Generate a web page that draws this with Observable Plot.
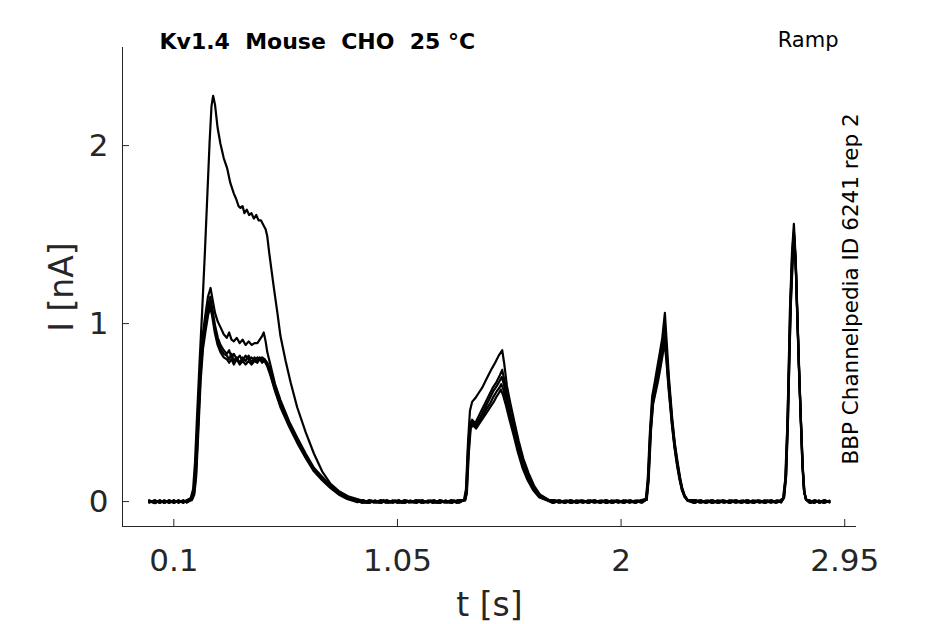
<!DOCTYPE html>
<html>
<head>
<meta charset="utf-8">
<script src="https://cdn.jsdelivr.net/npm/d3@7"></script>
<script src="https://cdn.jsdelivr.net/npm/@observablehq/plot@0.6"></script>
<style>
  html, body { margin: 0; padding: 0; background: #fff; }
  #chart { width: 945px; height: 624px; }
</style>
</head>
<body>
<div id="chart"></div>
<script>
// ---- Text ----
const titleText = "Kv1.4\u00a0 Mouse\u00a0 CHO\u00a0 25 °C";
const protocolText = "Ramp";
const sourceText = "BBP Channelpedia ID 6241 rep 2";
const xLabel = "t [s]";
const yLabel = "I [nA]";

// ---- Axes ----
const xDomain = [-0.118, 3.0];
const yDomain = [-0.14, 2.551];
const xTicks = [0.1, 1.05, 2, 2.95];
const xTickLabels = ["0.1", "1.05", "2", "2.95"];
const yTicks = [0, 1, 2];

// ---- Current traces [t (s), I (nA)] ----
const traceA = [
[-0.005,0.004],[0.02,-0.009],[0.04,0.006],[0.06,-0.005],[0.08,0.008],[0.10,-0.006],[0.12,0.004],[0.14,-0.007],[0.155,0.008],[0.172,0.02],[0.182,0.07],[0.190,0.22],[0.199,0.49],[0.210,0.80],[0.220,1.06],[0.232,1.40],[0.242,1.71],[0.252,2.02],[0.260,2.22],[0.267,2.28],[0.275,2.23],[0.286,2.10],[0.298,2.01],[0.312,1.93],[0.327,1.87],[0.340,1.79],[0.355,1.73],[0.365,1.70],[0.375,1.66],[0.383,1.65],[0.392,1.66],[0.400,1.62],[0.410,1.64],[0.420,1.61],[0.430,1.62],[0.440,1.59],[0.450,1.61],[0.460,1.58],[0.470,1.58],[0.482,1.55],[0.490,1.53],[0.497,1.49],[0.505,1.40],[0.515,1.30],[0.525,1.20],[0.540,1.06],[0.553,0.93],[0.575,0.79],[0.596,0.67],[0.624,0.53],[0.660,0.39],[0.695,0.27],[0.730,0.17],[0.766,0.10],[0.800,0.06],[0.840,0.03],[0.893,0.008],[0.92,-0.008],[0.94,0.006],[0.97,-0.007],[0.99,0.008],[1.02,-0.006],[1.04,0.007],[1.07,-0.008],[1.09,0.006],[1.12,-0.006],[1.14,0.008],[1.17,-0.005],[1.19,0.007],[1.22,-0.008],[1.24,0.005],[1.27,-0.006],[1.29,0.007],[1.315,-0.005],[1.333,0.012],
[1.341,0.07],[1.350,0.34],[1.358,0.51],[1.367,0.56],[1.380,0.58],[1.395,0.61],[1.410,0.64],[1.425,0.68],[1.440,0.72],[1.452,0.75],[1.465,0.78],[1.480,0.82],[1.495,0.85],[1.503,0.78],[1.515,0.65],[1.530,0.55],[1.548,0.44],[1.565,0.34],[1.585,0.24],[1.607,0.16],[1.630,0.09],[1.655,0.04],[1.690,0.012],[1.71,-0.007],[1.73,0.006],[1.76,-0.008],[1.78,0.007],[1.81,-0.006],[1.83,0.008],[1.86,-0.007],[1.88,0.006],[1.91,-0.008],[1.93,0.007],[1.96,-0.006],[1.98,0.008],[2.01,-0.007],[2.03,0.005],[2.06,-0.008],[2.08,0.006],[2.105,0.015],
[2.113,0.12],[2.122,0.38],[2.132,0.59],[2.143,0.67],[2.153,0.75],[2.165,0.84],[2.175,0.92],[2.186,1.06],[2.194,0.89],[2.203,0.70],[2.217,0.47],[2.228,0.33],[2.239,0.23],[2.250,0.14],[2.259,0.08],[2.270,0.035],[2.283,0.01],[2.31,-0.007],[2.33,0.006],[2.36,-0.008],[2.38,0.007],[2.41,-0.006],[2.43,0.008],[2.46,-0.007],[2.48,0.006],[2.51,-0.008],[2.53,0.007],[2.56,-0.006],[2.58,0.008],[2.61,-0.007],[2.63,0.006],[2.655,-0.007],[2.675,0.006],[2.688,0.02],
[2.697,0.12],[2.706,0.42],[2.712,0.75],[2.717,1.07],[2.726,1.40],[2.734,1.56],[2.741,1.38],[2.748,1.07],[2.755,0.78],[2.762,0.51],[2.770,0.22],[2.776,0.07],[2.784,0.015],[2.80,-0.007],[2.82,0.008],[2.84,-0.006],[2.86,0.007],[2.885,-0.004]
];

const traceB = [
[-0.005,-0.006],[0.02,0.008],[0.04,-0.006],[0.06,0.007],[0.08,-0.008],[0.10,0.006],[0.12,-0.005],[0.14,0.008],[0.155,-0.004],[0.174,0.015],[0.184,0.06],[0.192,0.18],[0.200,0.42],[0.212,0.74],[0.222,0.93],[0.233,1.04],[0.245,1.15],[0.256,1.20],[0.264,1.14],[0.275,1.06],[0.287,1.01],[0.298,0.98],[0.312,0.94],[0.325,0.92],[0.335,0.95],[0.345,0.91],[0.355,0.90],[0.367,0.92],[0.380,0.89],[0.392,0.91],[0.405,0.88],[0.418,0.90],[0.430,0.88],[0.443,0.89],[0.455,0.89],[0.465,0.91],[0.475,0.93],[0.482,0.95],[0.490,0.90],[0.497,0.84],[0.510,0.77],[0.530,0.66],[0.553,0.57],[0.590,0.45],[0.624,0.36],[0.660,0.27],[0.695,0.19],[0.730,0.14],[0.766,0.09],[0.800,0.05],[0.836,0.02],[0.88,0.006],[0.91,-0.007],[0.93,0.008],[0.96,-0.006],[0.98,0.007],[1.01,-0.008],[1.03,0.006],[1.06,-0.007],[1.08,0.008],[1.11,-0.005],[1.13,0.007],[1.16,-0.008],[1.18,0.006],[1.21,-0.007],[1.23,0.008],[1.26,-0.006],[1.28,0.007],[1.31,-0.007],[1.335,0.01],
[1.342,0.06],[1.350,0.30],[1.358,0.44],[1.367,0.46],[1.380,0.44],[1.395,0.48],[1.410,0.52],[1.425,0.56],[1.440,0.60],[1.455,0.64],[1.470,0.67],[1.485,0.71],[1.495,0.74],[1.503,0.69],[1.515,0.60],[1.530,0.50],[1.548,0.40],[1.565,0.31],[1.585,0.22],[1.607,0.14],[1.630,0.08],[1.655,0.035],[1.690,0.01],[1.72,0.008],[1.74,-0.006],[1.77,0.007],[1.79,-0.008],[1.82,0.006],[1.84,-0.007],[1.87,0.008],[1.89,-0.006],[1.92,0.007],[1.94,-0.008],[1.97,0.006],[1.99,-0.007],[2.02,0.008],[2.04,-0.005],[2.07,0.007],[2.09,-0.006],[2.107,0.012],
[2.115,0.14],[2.124,0.40],[2.133,0.57],[2.143,0.65],[2.153,0.72],[2.165,0.80],[2.175,0.88],[2.185,0.98],[2.193,0.85],[2.203,0.67],[2.217,0.45],[2.228,0.32],[2.239,0.22],[2.250,0.13],[2.259,0.075],[2.270,0.03],[2.283,0.008],[2.32,0.008],[2.34,-0.006],[2.37,0.007],[2.39,-0.008],[2.42,0.006],[2.44,-0.007],[2.47,0.008],[2.49,-0.006],[2.52,0.007],[2.54,-0.008],[2.57,0.006],[2.59,-0.007],[2.62,0.008],[2.64,-0.005],[2.665,0.007],[2.680,-0.004],[2.690,0.02],
[2.699,0.14],[2.707,0.45],[2.713,0.78],[2.719,1.10],[2.727,1.40],[2.734,1.52],[2.741,1.36],[2.748,1.05],[2.755,0.76],[2.762,0.50],[2.770,0.21],[2.777,0.06],[2.785,0.012],[2.80,0.007],[2.82,-0.008],[2.84,0.006],[2.865,-0.007],[2.885,0.004]
];

const traceC = [
[-0.005,0.008],[0.02,-0.007],[0.04,0.006],[0.06,-0.008],[0.08,0.007],[0.10,-0.005],[0.12,0.008],[0.14,-0.006],[0.155,0.006],[0.175,0.012],[0.185,0.05],[0.193,0.17],[0.201,0.40],[0.212,0.72],[0.222,0.90],[0.233,1.00],[0.245,1.10],[0.255,1.15],[0.263,1.09],[0.275,0.99],[0.287,0.92],[0.298,0.88],[0.312,0.85],[0.325,0.83],[0.335,0.85],[0.345,0.81],[0.355,0.83],[0.367,0.80],[0.380,0.82],[0.392,0.79],[0.405,0.82],[0.418,0.80],[0.430,0.81],[0.443,0.79],[0.455,0.81],[0.465,0.80],[0.475,0.81],[0.485,0.80],[0.497,0.78],[0.510,0.74],[0.530,0.65],[0.553,0.56],[0.590,0.44],[0.624,0.35],[0.660,0.26],[0.695,0.18],[0.730,0.13],[0.766,0.085],[0.800,0.05],[0.836,0.02],[0.88,0.004],[0.90,-0.008],[0.93,0.007],[0.95,-0.006],[0.98,0.008],[1.00,-0.007],[1.03,0.006],[1.05,-0.008],[1.08,0.007],[1.10,-0.006],[1.13,0.008],[1.15,-0.007],[1.18,0.005],[1.20,-0.008],[1.23,0.007],[1.25,-0.006],[1.28,0.008],[1.30,-0.007],[1.336,0.008],
[1.343,0.05],[1.351,0.29],[1.359,0.43],[1.368,0.45],[1.382,0.43],[1.397,0.46],[1.412,0.50],[1.427,0.54],[1.442,0.58],[1.457,0.62],[1.472,0.65],[1.485,0.68],[1.493,0.70],[1.502,0.66],[1.515,0.58],[1.530,0.49],[1.548,0.39],[1.565,0.30],[1.585,0.21],[1.607,0.135],[1.630,0.075],[1.655,0.03],[1.690,0.008],[1.715,-0.007],[1.74,0.008],[1.765,-0.006],[1.79,0.007],[1.815,-0.008],[1.84,0.006],[1.865,-0.007],[1.89,0.008],[1.915,-0.006],[1.94,0.007],[1.965,-0.008],[1.99,0.006],[2.015,-0.007],[2.04,0.008],[2.065,-0.005],[2.09,0.006],[2.108,0.01],
[2.116,0.13],[2.125,0.40],[2.134,0.56],[2.144,0.63],[2.154,0.70],[2.166,0.78],[2.176,0.86],[2.185,0.94],[2.193,0.83],[2.203,0.66],[2.217,0.44],[2.228,0.31],[2.239,0.21],[2.250,0.125],[2.259,0.07],[2.270,0.03],[2.283,0.006],[2.315,-0.007],[2.34,0.008],[2.365,-0.006],[2.39,0.007],[2.415,-0.008],[2.44,0.006],[2.465,-0.007],[2.49,0.008],[2.515,-0.006],[2.54,0.007],[2.565,-0.008],[2.59,0.006],[2.615,-0.007],[2.64,0.008],[2.66,-0.005],[2.678,0.006],[2.691,0.02],
[2.700,0.15],[2.708,0.46],[2.714,0.80],[2.720,1.12],[2.728,1.40],[2.735,1.50],[2.742,1.33],[2.749,1.03],[2.756,0.74],[2.763,0.48],[2.771,0.20],[2.778,0.055],[2.786,0.01],[2.805,-0.008],[2.825,0.007],[2.845,-0.006],[2.865,0.008],[2.885,-0.003]
];

const traceD = [
[-0.005,-0.003],[0.02,0.007],[0.04,-0.008],[0.06,0.006],[0.08,-0.006],[0.10,0.008],[0.12,-0.007],[0.14,0.005],[0.155,-0.006],[0.176,0.01],[0.186,0.045],[0.194,0.15],[0.202,0.38],[0.213,0.70],[0.223,0.88],[0.234,0.98],[0.245,1.07],[0.254,1.12],[0.262,1.07],[0.274,0.97],[0.286,0.90],[0.298,0.86],[0.312,0.83],[0.325,0.82],[0.335,0.80],[0.345,0.83],[0.355,0.79],[0.367,0.81],[0.380,0.78],[0.392,0.81],[0.405,0.79],[0.418,0.82],[0.430,0.78],[0.443,0.81],[0.455,0.79],[0.465,0.81],[0.475,0.79],[0.485,0.80],[0.497,0.77],[0.510,0.72],[0.530,0.63],[0.553,0.54],[0.590,0.43],[0.624,0.34],[0.660,0.25],[0.695,0.175],[0.730,0.125],[0.766,0.08],[0.800,0.045],[0.836,0.018],[0.88,0.003],[0.905,0.008],[0.93,-0.007],[0.955,0.006],[0.98,-0.008],[1.005,0.007],[1.03,-0.006],[1.055,0.008],[1.08,-0.007],[1.105,0.006],[1.13,-0.008],[1.155,0.007],[1.18,-0.005],[1.205,0.008],[1.23,-0.007],[1.255,0.006],[1.28,-0.008],[1.305,0.007],[1.337,0.008],
[1.344,0.05],[1.352,0.28],[1.360,0.42],[1.369,0.44],[1.383,0.42],[1.398,0.45],[1.413,0.48],[1.428,0.52],[1.443,0.55],[1.458,0.59],[1.472,0.62],[1.483,0.64],[1.491,0.66],[1.500,0.63],[1.513,0.56],[1.528,0.48],[1.546,0.38],[1.563,0.29],[1.583,0.20],[1.605,0.13],[1.628,0.07],[1.653,0.03],[1.688,0.007],[1.71,0.008],[1.735,-0.007],[1.76,0.006],[1.785,-0.008],[1.81,0.007],[1.835,-0.006],[1.86,0.008],[1.885,-0.007],[1.91,0.006],[1.935,-0.008],[1.96,0.007],[1.985,-0.005],[2.01,0.008],[2.035,-0.007],[2.06,0.006],[2.085,-0.006],[2.108,0.01],
[2.116,0.12],[2.126,0.40],[2.135,0.55],[2.145,0.62],[2.155,0.69],[2.166,0.76],[2.176,0.84],[2.184,0.92],[2.192,0.82],[2.202,0.65],[2.216,0.44],[2.227,0.31],[2.238,0.21],[2.249,0.125],[2.258,0.07],[2.269,0.03],[2.282,0.006],[2.31,0.008],[2.335,-0.007],[2.36,0.006],[2.385,-0.008],[2.41,0.007],[2.435,-0.006],[2.46,0.008],[2.485,-0.007],[2.51,0.006],[2.535,-0.008],[2.56,0.007],[2.585,-0.005],[2.61,0.008],[2.635,-0.007],[2.66,0.006],[2.68,-0.005],[2.692,0.02],
[2.701,0.15],[2.709,0.47],[2.715,0.82],[2.721,1.13],[2.729,1.38],[2.736,1.48],[2.743,1.31],[2.750,1.01],[2.757,0.72],[2.764,0.46],[2.772,0.19],[2.779,0.05],[2.787,0.01],[2.80,0.008],[2.82,-0.007],[2.84,0.006],[2.86,-0.008],[2.885,0.005]
];

const traceE = [
[-0.005,0.002],[0.02,-0.008],[0.04,0.007],[0.06,-0.006],[0.08,0.005],[0.10,-0.008],[0.12,0.006],[0.14,-0.005],[0.155,0.007],[0.177,0.008],[0.187,0.04],[0.195,0.14],[0.203,0.36],[0.214,0.68],[0.224,0.86],[0.235,0.96],[0.246,1.05],[0.254,1.09],[0.262,1.05],[0.274,0.95],[0.286,0.88],[0.298,0.84],[0.312,0.81],[0.325,0.80],[0.335,0.78],[0.345,0.80],[0.355,0.77],[0.367,0.80],[0.380,0.77],[0.392,0.79],[0.405,0.77],[0.418,0.79],[0.430,0.77],[0.443,0.79],[0.455,0.78],[0.465,0.80],[0.475,0.78],[0.485,0.79],[0.497,0.76],[0.510,0.71],[0.530,0.62],[0.553,0.53],[0.590,0.42],[0.624,0.33],[0.660,0.245],[0.695,0.17],[0.730,0.12],[0.766,0.075],[0.800,0.04],[0.836,0.015],[0.88,-0.004],[0.905,0.007],[0.93,-0.008],[0.955,0.006],[0.98,-0.007],[1.005,0.008],[1.03,-0.006],[1.055,0.007],[1.08,-0.008],[1.105,0.005],[1.13,-0.007],[1.155,0.008],[1.18,-0.006],[1.205,0.007],[1.23,-0.008],[1.255,0.006],[1.28,-0.007],[1.31,0.008],[1.338,0.007],
[1.345,0.05],[1.353,0.27],[1.361,0.41],[1.370,0.43],[1.384,0.41],[1.399,0.44],[1.414,0.47],[1.429,0.50],[1.444,0.53],[1.459,0.56],[1.471,0.59],[1.481,0.61],[1.489,0.63],[1.498,0.60],[1.511,0.54],[1.526,0.46],[1.544,0.37],[1.561,0.28],[1.581,0.19],[1.603,0.12],[1.626,0.065],[1.651,0.025],[1.686,0.006],[1.71,-0.008],[1.735,0.007],[1.76,-0.006],[1.785,0.008],[1.81,-0.007],[1.835,0.006],[1.86,-0.008],[1.885,0.007],[1.91,-0.005],[1.935,0.008],[1.96,-0.007],[1.985,0.006],[2.01,-0.008],[2.035,0.007],[2.06,-0.006],[2.085,0.007],[2.109,0.01],
[2.117,0.12],[2.127,0.40],[2.136,0.55],[2.146,0.61],[2.156,0.67],[2.167,0.75],[2.176,0.82],[2.184,0.90],[2.192,0.80],[2.202,0.63],[2.216,0.43],[2.227,0.30],[2.238,0.20],[2.249,0.12],[2.258,0.065],[2.269,0.028],[2.282,0.005],[2.31,-0.008],[2.335,0.007],[2.36,-0.006],[2.385,0.008],[2.41,-0.007],[2.435,0.006],[2.46,-0.008],[2.485,0.007],[2.51,-0.005],[2.535,0.008],[2.56,-0.007],[2.585,0.006],[2.61,-0.008],[2.635,0.007],[2.66,-0.006],[2.68,0.005],[2.692,0.02],
[2.701,0.14],[2.709,0.46],[2.715,0.80],[2.721,1.10],[2.729,1.35],[2.736,1.45],[2.743,1.28],[2.750,0.99],[2.757,0.70],[2.764,0.45],[2.772,0.18],[2.779,0.05],[2.787,0.01],[2.805,-0.008],[2.825,0.006],[2.845,-0.007],[2.865,0.008],[2.885,-0.004]
];

const traces = [traceA, traceB, traceC, traceD, traceE];
const rows = traces.flatMap((tr, k) => tr.map(([t, i]) => ({t, i, trace: k})));

const axisColor = "#262626";

const chart = Plot.plot({
  width: 945,
  height: 624,
  marginLeft: 122,
  marginRight: 89,
  marginTop: 47,
  marginBottom: 98,
  style: {fontFamily: "DejaVu Sans, sans-serif", color: axisColor, background: "#fff", overflow: "visible"},
  x: {domain: xDomain},
  y: {domain: yDomain},
  marks: [
    Plot.ruleX([xDomain[0]], {stroke: axisColor, strokeWidth: 1}),
    Plot.ruleY([yDomain[0]], {stroke: axisColor, strokeWidth: 1}),
    Plot.axisX(xTicks, {tickSize: -7, tickPadding: 29, fontSize: 31, tickFormat: d => xTickLabels[xTicks.indexOf(d)], label: null, stroke: axisColor}),
    Plot.axisY(yTicks, {tickSize: -7, tickPadding: 21, fontSize: 31, tickFormat: d => String(d), label: null, stroke: axisColor}),
    Plot.line(rows, {x: "t", y: "i", z: "trace", stroke: "#000", strokeWidth: 2.2, strokeLinejoin: "round"}),
    Plot.text([xLabel], {frameAnchor: "bottom", dy: 89, lineAnchor: "bottom", textAnchor: "middle", fontSize: 33, fill: axisColor}),
    Plot.text([yLabel], {frameAnchor: "left", dx: -50, rotate: -90, lineAnchor: "bottom", textAnchor: "middle", fontSize: 33, fill: axisColor}),
    Plot.text([titleText], {frameAnchor: "top-left", dx: 37, dy: 1, lineAnchor: "bottom", textAnchor: "start", fontSize: 22, fontWeight: "bold", fill: "#000"}),
    Plot.text([protocolText], {frameAnchor: "top-right", dx: -18, dy: -1, lineAnchor: "bottom", textAnchor: "end", fontSize: 21, fill: "#000"}),
    Plot.text([sourceText], {frameAnchor: "right", dx: 1, dy: 2, rotate: -90, lineAnchor: "bottom", textAnchor: "middle", fontSize: 21.5, fill: "#000"})
  ]
});
document.getElementById("chart").appendChild(chart);
</script>
</body>
</html>
